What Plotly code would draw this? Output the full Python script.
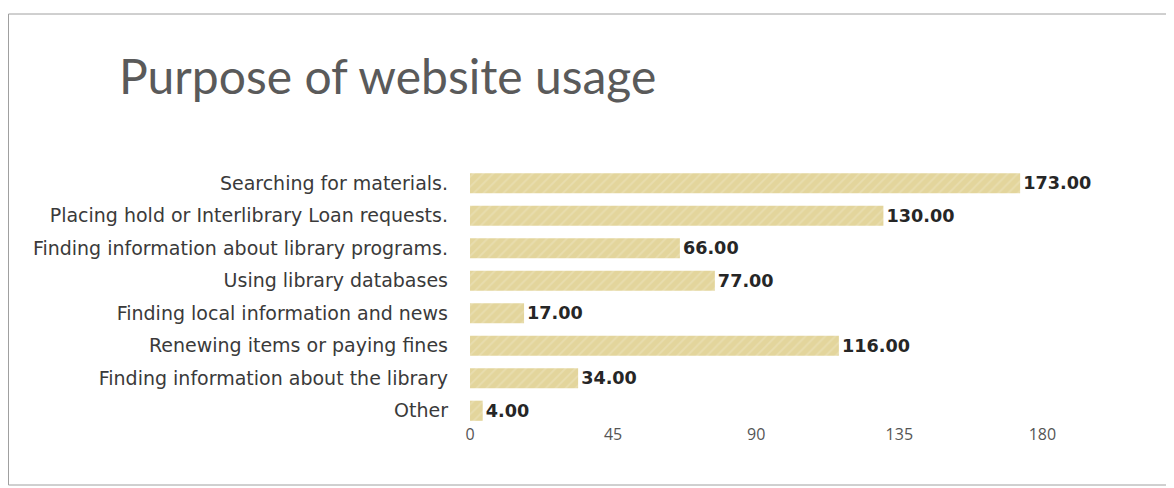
import plotly.graph_objects as go

# Data
purposes = [
    "Searching for materials.",
    "Placing hold or Interlibrary Loan requests.",
    "Finding information about library programs.",
    "Using library databases",
    "Finding local information and news",
    "Renewing items or paying fines",
    "Finding information about the library",
    "Other",
]
responses = [173, 130, 66, 77, 17, 116, 34, 4]
tick_values = [0, 45, 90, 135, 180]

# page has an 8px body margin, so the figure is a bit smaller than the window
W, H = 1166, 480
ml, mr, mt, mb = 462, 68, 159, 61
plot_w = W - ml - mr
plot_h = H - mt - mb


def px_to_paper_x(px):
    return (px - ml) / plot_w


def px_to_paper_y(py):
    return (H - mb - py) / plot_h


fig = go.Figure()

fig.add_trace(go.Bar(
    x=responses,
    y=purposes,
    orientation="h",
    marker=dict(
        color="#E3D59C",
        line=dict(width=0),
        pattern=dict(shape="/", fgcolor="#EEE5C2", size=7, solidity=0.25),
    ),
    texttemplate="%{x:.2f}",
    textposition="outside",
    textfont=dict(family="DejaVu Sans", size=21, color="#262626", weight="bold"),
    cliponaxis=False,
    hoverinfo="skip",
))

# thin frame around the whole chart
fig.add_shape(
    type="rect", xref="paper", yref="paper",
    x0=px_to_paper_x(0.5), x1=px_to_paper_x(1164),
    y0=px_to_paper_y(477), y1=px_to_paper_y(6),
    line=dict(color="#a0a0a0", width=1),
    layer="below",
)

fig.update_layout(
    width=W,
    height=H,
    margin=dict(l=ml, r=mr, t=mt, b=mb),
    paper_bgcolor="white",
    plot_bgcolor="white",
    showlegend=False,
    bargap=0.38,
    title=dict(
        text="Purpose of website usage",
        font=dict(family="Lato", size=48, color="#5a5a5a"),
        xref="container", yref="container",
        x=111 / W, xanchor="left",
        y=1 - 69 / H, yanchor="middle",
    ),
    xaxis=dict(
        range=[0, 200],
        tickvals=tick_values,
        showgrid=False,
        zeroline=False,
        showline=False,
        ticks="",
        ticklabelstandoff=-4,
        tickfont=dict(family="Open Sans", size=16, color="#555555"),
    ),
    yaxis=dict(
        autorange="reversed",
        showgrid=False,
        zeroline=False,
        showline=False,
        ticks="",
        ticklabelstandoff=21,
        tickfont=dict(family="DejaVu Sans", size=19, color="#3a3a3a"),
    ),
)

fig.write_html("out.html")
